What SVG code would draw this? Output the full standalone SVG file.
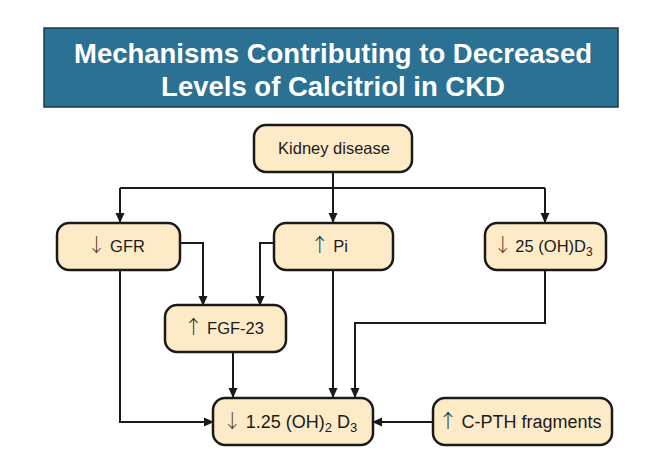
<svg xmlns="http://www.w3.org/2000/svg" width="664" height="453" viewBox="0 0 664 453">
<defs>
<marker id="ah" markerWidth="10" markerHeight="10" refX="9" refY="5" orient="auto" markerUnits="userSpaceOnUse">
<path d="M0,0.5 L10,5 L0,9.5 Z" fill="#1a1a1a"/>
</marker>
<style>
.node rect{fill:#fdebc7;stroke:#1a1a1a;stroke-width:2.5}
.node text{font-family:"Liberation Sans",Arial,sans-serif;font-size:16.5px;fill:#1a1a1a;text-anchor:middle}
.big text{font-size:18px}
.dn,.up{font-family:"Noto Sans CJK JP","DejaVu Sans",sans-serif;font-weight:300;font-size:19px}
.dn{fill:#5a4020}
.up{fill:#2a2238}
#connectors path{fill:none;stroke:#1a1a1a;stroke-width:2}
.arr{marker-end:url(#ah)}
.title{font-family:"Liberation Sans",Arial,sans-serif;font-weight:bold;font-size:27.5px;fill:#ffffff;text-anchor:middle}
</style>
</defs>
<rect width="664" height="453" fill="#ffffff"/>
<g id="title">
<rect x="44" y="28" width="574" height="79" fill="#2b7193" stroke="#1f3a48" stroke-width="1.5"/>
<text class="title" x="333" y="63">Mechanisms Contributing to Decreased</text>
<text class="title" x="333" y="96">Levels of Calcitriol in CKD</text>
</g>
<g id="connectors">
<path d="M333,172 V188"/>
<path d="M120,188 H545"/>
<path class="arr" d="M120,188 V222"/>
<path class="arr" d="M333,188 V222"/>
<path class="arr" d="M545,188 V222"/>
<path class="arr" d="M180,243 H203 V305"/>
<path class="arr" d="M274,243 H260 V305"/>
<path class="arr" d="M120,270 V422 H213"/>
<path class="arr" d="M233,352 V397"/>
<path class="arr" d="M333,270 V397"/>
<path class="arr" d="M545,270 V323 H355 V397"/>
<path class="arr" d="M433,422 H373"/>
</g>
<g id="kidney" class="node">
<rect x="254" y="125" width="158" height="47" rx="12"/>
<text x="334" y="154">Kidney disease</text>
</g>
<g id="gfr" class="node">
<rect x="57" y="223" width="123" height="47" rx="12"/>
<text x="116" y="252"><tspan class="dn">↓</tspan><tspan dx="4">GFR</tspan></text>
</g>
<g id="pi" class="node">
<rect x="274" y="223" width="119" height="47" rx="12"/>
<text x="329" y="252"><tspan class="up">↑</tspan><tspan dx="4">Pi</tspan></text>
</g>
<g id="ohd3" class="node">
<rect x="485" y="223" width="121" height="47" rx="12"/>
<text x="543" y="252"><tspan class="dn">↓</tspan><tspan dx="3">25 (OH)D</tspan><tspan font-size="12" dy="4">3</tspan></text>
</g>
<g id="fgf" class="node">
<rect x="165" y="305" width="121" height="47" rx="12"/>
<text x="224" y="334"><tspan class="up">↑</tspan><tspan dx="4">FGF-23</tspan></text>
</g>
<g id="calcitriol" class="node big">
<rect x="213" y="398" width="160" height="47" rx="12"/>
<text x="290" y="428"><tspan class="dn">↓</tspan><tspan dx="4">1.25 (OH)</tspan><tspan font-size="13" dy="4">2</tspan><tspan dy="-4"> D</tspan><tspan font-size="13" dy="4">3</tspan></text>
</g>
<g id="cpth" class="node big">
<rect x="433" y="398" width="179" height="47" rx="12"/>
<text x="520" y="428"><tspan class="up">↑</tspan><tspan dx="4">C-PTH fragments</tspan></text>
</g>
</svg>
